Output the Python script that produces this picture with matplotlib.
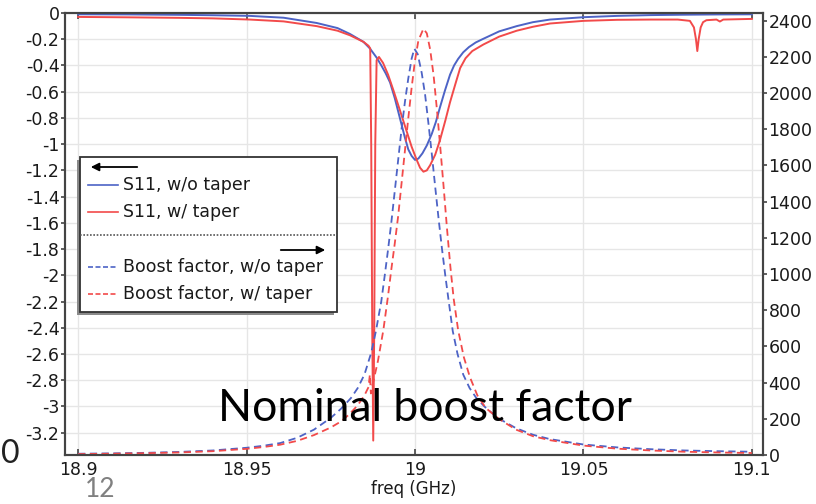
import matplotlib
matplotlib.use('Agg')
import matplotlib.pyplot as plt
from matplotlib.patches import Rectangle, FancyArrowPatch
from matplotlib.lines import Line2D
from matplotlib.ticker import FuncFormatter

plt.rcParams['axes.unicode_minus'] = False

# S11, w/o taper (left axis)
f_s11_notaper = [18.900, 18.915, 18.930, 18.940, 18.951, 18.961, 18.9708, 18.977, 18.9807, 18.9847,
                 18.9866, 18.9886, 18.9900, 18.9913, 18.9926, 18.9940, 18.9955, 18.9970, 18.9980, 18.9990,
                 19.0000, 19.0010, 19.0022, 19.0035, 19.0050, 19.0062, 19.0074, 19.0089, 19.0104, 19.0116,
                 19.0128, 19.0143, 19.0160, 19.0180, 19.0200, 19.0250, 19.0302, 19.0350, 19.0401, 19.0500,
                 19.0600, 19.0700, 19.0800, 19.0900, 19.1000]
s11_notaper = [-0.010, -0.011, -0.014, -0.017, -0.022, -0.036, -0.076, -0.115, -0.160, -0.220,
               -0.270, -0.340, -0.400, -0.460, -0.530, -0.650, -0.800, -0.950, -1.040, -1.090,
               -1.120, -1.110, -1.070, -1.010, -0.920, -0.830, -0.720, -0.590, -0.470, -0.400,
               -0.350, -0.300, -0.260, -0.225, -0.200, -0.140, -0.100, -0.070, -0.050, -0.032,
               -0.022, -0.016, -0.013, -0.011, -0.010]

# S11, w/ taper (left axis)
f_s11_taper = [18.900, 18.915, 18.930, 18.940, 18.951, 18.961, 18.9708, 18.977, 18.9807, 18.9847,
               18.9862, 18.9867, 18.9870, 18.9873, 18.9876, 18.9879, 18.9882, 18.9886, 18.9893, 18.9905,
               18.9920, 18.9936, 18.9955, 18.9975, 18.9990, 19.0005, 19.0015, 19.0025, 19.0035, 19.0045,
               19.0060, 19.0074, 19.0090, 19.0104, 19.0120, 19.0134, 19.0150, 19.0170, 19.0203, 19.0250,
               19.0302, 19.0350, 19.0401, 19.0500, 19.0600, 19.0700, 19.0780, 19.0816, 19.0828, 19.0834,
               19.0838, 19.0842, 19.0848, 19.0855, 19.0865, 19.0895, 19.0905, 19.0915, 19.1000]
s11_taper = [-0.030, -0.033, -0.037, -0.041, -0.050, -0.064, -0.100, -0.135, -0.170, -0.220,
             -0.250, -0.270, -1.000, -2.400, -3.260, -2.400, -1.000, -0.360, -0.335, -0.380,
             -0.470, -0.590, -0.740, -0.900, -1.020, -1.120, -1.180, -1.210, -1.200, -1.160,
             -1.080, -0.970, -0.820, -0.680, -0.540, -0.420, -0.345, -0.290, -0.240, -0.180,
             -0.135, -0.105, -0.080, -0.060, -0.052, -0.050, -0.050, -0.060, -0.110, -0.200,
             -0.290, -0.200, -0.110, -0.070, -0.055, -0.050, -0.065, -0.050, -0.045]

# Boost factor, w/o taper (right axis)
f_boost_notaper = [18.900, 18.910, 18.920, 18.930, 18.940, 18.950, 18.955, 18.960, 18.965, 18.970,
                   18.975, 18.978, 18.981, 18.983, 18.985, 18.987, 18.9884, 18.990, 18.991, 18.992,
                   18.993, 18.994, 18.995, 18.996, 18.997, 18.998, 18.999, 18.9998, 19.0008, 19.002,
                   19.003, 19.004, 19.005, 19.006, 19.007, 19.008, 19.009, 19.010, 19.0112, 19.0126,
                   19.0143, 19.0162, 19.0182, 19.0213, 19.025, 19.030, 19.035, 19.040, 19.050, 19.060,
                   19.070, 19.080, 19.090, 19.100]
boost_notaper = [7, 9, 12, 17, 25, 40, 51, 66, 95, 140,
                 205, 255, 315, 370, 445, 565, 685, 850, 990, 1135,
                 1290, 1460, 1630, 1800, 1950, 2080, 2190, 2245, 2215, 2110,
                 1990, 1830, 1660, 1480, 1305, 1140, 990, 850, 685, 560,
                 445, 370, 315, 255, 200, 148, 112, 88, 58, 42,
                 32, 25, 21, 18]

# Boost factor, w/ taper (right axis)
f_boost_taper = [18.900, 18.910, 18.920, 18.930, 18.940, 18.950, 18.955, 18.960, 18.965, 18.970,
                 18.975, 18.978, 18.9805, 18.983, 18.985, 18.9862, 18.9866, 18.9869, 18.9873, 18.9878,
                 18.989, 18.9906, 18.992, 18.993, 18.994, 18.995, 18.996, 18.997, 18.998, 18.999,
                 19.000, 19.001, 19.0025, 19.0035, 19.0045, 19.0055, 19.0065, 19.0075, 19.0085, 19.0095,
                 19.0105, 19.0115, 19.0128, 19.0145, 19.0163, 19.0185, 19.0210, 19.025, 19.030, 19.035,
                 19.040, 19.050, 19.060, 19.070, 19.080, 19.090, 19.100]
boost_taper = [5, 7, 10, 14, 21, 34, 44, 57, 78, 110,
               152, 185, 225, 275, 330, 375, 445, 340, 380, 420,
               520, 690, 880, 1030, 1170, 1320, 1500, 1680, 1860, 2030,
               2180, 2290, 2355, 2330, 2240, 2100, 1910, 1700, 1480, 1250,
               1040, 860, 690, 540, 430, 330, 260, 198, 140, 104,
               82, 52, 35, 25, 18, 14, 11]

x_ticks = [18.9, 18.95, 19.0, 19.05, 19.1]
left_ticks = [-0.2 * i for i in range(17)]
right_ticks = [200 * i for i in range(13)]

BLUE = '#4d63c6'
RED = '#f24a4a'
W, H = 816, 504


def px(x, y):
    return x / W, 1 - y / H


def fmt(v, pos):
    v = round(v, 2)
    if abs(v) < 1e-9:
        return '0'
    return '%g' % v


fig = plt.figure(figsize=(W / 100, H / 100), dpi=100)
ax = fig.add_axes([65 / W, 1 - 455 / H, (763 - 65) / W, (455 - 13) / H])
ax2 = ax.twinx()

ax.plot(f_s11_notaper, s11_notaper, color=BLUE, lw=1.4)
ax.plot(f_s11_taper, s11_taper, color=RED, lw=1.4)
ax2.plot(f_boost_notaper, boost_notaper, color=BLUE, lw=1.3, ls=(0, (4, 2.5)))
ax2.plot(f_boost_taper, boost_taper, color=RED, lw=1.3, ls=(0, (4, 2.5)))

ax.set_xlim(18.8961, 19.1033)
ax.set_ylim(-3.37, 0)
ax2.set_ylim(0, 2442)
ax.set_xticks(x_ticks)
ax.set_yticks(left_ticks)
ax2.set_yticks(right_ticks)
ax.xaxis.set_major_formatter(FuncFormatter(fmt))
ax.yaxis.set_major_formatter(FuncFormatter(fmt))
ax2.yaxis.set_major_formatter(FuncFormatter(fmt))

ax.grid(True, color='#e6e6e6', lw=1.0)
ax.set_axisbelow(True)
ax.tick_params(axis='x', direction='in', top=True, length=4, width=1.2, pad=4,
               labelsize=12.5, color='#444444', labelcolor='#1a1a1a')
ax.tick_params(axis='y', direction='out', length=3, width=1.2, pad=1,
               labelsize=12.5, color='#444444', labelcolor='#1a1a1a')
ax2.tick_params(axis='y', direction='out', length=3, width=1.2, pad=1,
                labelsize=12.5, color='#444444', labelcolor='#1a1a1a')
for a in (ax, ax2):
    for s in a.spines.values():
        s.set_color('#444444')
        s.set_linewidth(1.5)
ax.set_xlabel('freq (GHz)', fontsize=12, color='#1a1a1a', labelpad=1)

# legend drawn by hand (two groups with axis arrows)
x0, y0, x1, y1 = 80, 157, 337, 312
shadow = Rectangle(px(x0 - 3, y1 + 3), (x1 - x0) / W, (y1 - y0) / H, transform=fig.transFigure,
                   facecolor='#8a8a8a', edgecolor='none', zorder=5)
box = Rectangle(px(x0, y1), (x1 - x0) / W, (y1 - y0) / H, transform=fig.transFigure,
                facecolor='white', edgecolor='#333333', lw=1.3, zorder=6)
fig.add_artist(shadow)
fig.add_artist(box)

fig.add_artist(FancyArrowPatch(px(140, 167), px(88, 167), transform=fig.transFigure,
                               arrowstyle='-|>', mutation_scale=12, color='black', lw=1.3, zorder=7))
fig.add_artist(FancyArrowPatch(px(278, 250), px(328, 250), transform=fig.transFigure,
                               arrowstyle='-|>', mutation_scale=12, color='black', lw=1.3, zorder=7))
fig.add_artist(Line2D([x0 / W, x1 / W], [1 - 235 / H] * 2, transform=fig.transFigure,
                      color='#555555', lw=1.2, ls=(0, (1, 1)), zorder=7))

entries = [(185, BLUE, '-', 'S11, w/o taper'),
           (212, RED, '-', 'S11, w/ taper'),
           (267, BLUE, (0, (3, 1.5)), 'Boost factor, w/o taper'),
           (294, RED, (0, (3, 1.5)), 'Boost factor, w/ taper')]
for yy, c, ls, label in entries:
    fig.add_artist(Line2D([88 / W, 118 / W], [1 - yy / H] * 2, transform=fig.transFigure,
                          color=c, lw=1.2, ls=ls, zorder=7))
    fig.text(123 / W, 1 - yy / H, label, fontsize=12.5, color='#1a1a1a', va='center', ha='left', zorder=8)

# slide overlay text
fig.text(218 / W, 1 - 421 / H, 'Nominal boost factor', fontsize=32, family='Lato',
         color='black', va='baseline', ha='left', zorder=9)
fig.text(0.5 / W, 1 - 454 / H, '0', fontsize=23, family='Lato', color='#222222',
         va='center', ha='left')
fig.text(100 / W, 1 - 502 / H, '12', fontsize=19, family='Lato', color='#808080',
         va='bottom', ha='center')

fig.savefig('out.png', dpi=100)
